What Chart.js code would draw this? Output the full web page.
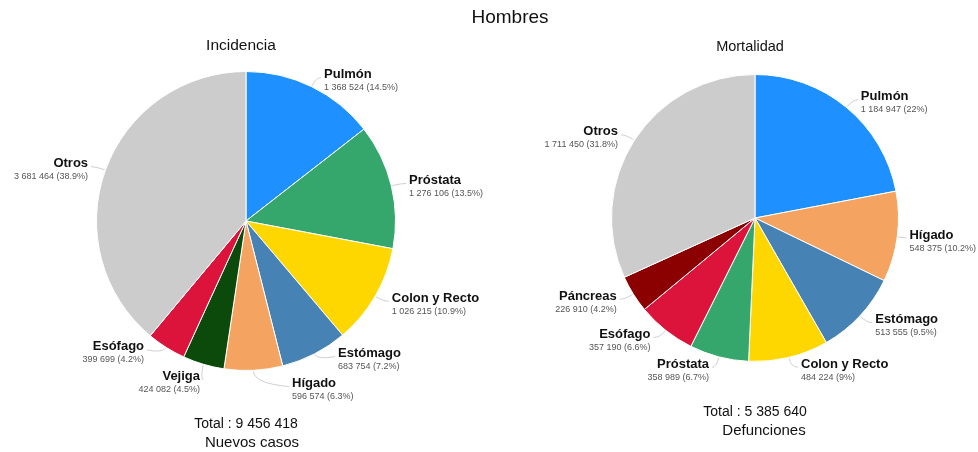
<!DOCTYPE html>
<html>
<head>
<meta charset="utf-8">
<script src="https://cdn.jsdelivr.net/npm/chart.js@4"></script>
<style>
  body { margin: 0; background: #fff; font-family: "Liberation Sans", Arial, sans-serif; }
  #page { position: relative; width: 978px; height: 452px; overflow: hidden; }
  .box { position: absolute; top: 0; width: 489px; height: 452px; }
  .txt { position: absolute; white-space: nowrap; transform: translateX(-50%); color: #111; }
</style>
</head>
<body>
<div id="page">
  <div class="box" style="left:0"><canvas id="incidencia" width="489" height="452"></canvas></div>
  <div class="box" style="left:489px"><canvas id="mortalidad" width="489" height="452"></canvas></div>

  <div class="txt" style="left:510px; top:6px; font-size:19px;">Hombres</div>
  <div class="txt" style="left:241px; top:36px; font-size:15.5px;">Incidencia</div>
  <div class="txt" style="left:750px; top:38px; font-size:14.5px;">Mortalidad</div>
  <div class="txt" id="inc-total" style="left:246px; top:415px; font-size:14px;"></div>
  <div class="txt" style="left:252px; top:433px; font-size:15px;">Nuevos casos</div>
  <div class="txt" id="mor-total" style="left:755px; top:403px; font-size:14px;"></div>
  <div class="txt" style="left:764px; top:421px; font-size:15px;">Defunciones</div>
</div>

<script>
// Incidencia (nuevos casos)
const incCategories = ['Pulmón', 'Próstata', 'Colon y Recto', 'Estómago', 'Hígado', 'Vejiga', 'Esófago', 'Otros'];
const incValues = [1368524, 1276106, 1026215, 683754, 596574, 424082, 399699, 3681464];

// Mortalidad (defunciones)
const morCategories = ['Pulmón', 'Hígado', 'Estómago', 'Colon y Recto', 'Próstata', 'Esófago', 'Páncreas', 'Otros'];
const morValues = [1184947, 548375, 513555, 484224, 358989, 357190, 226910, 1711450];

const organColors = {
    'Pulmón': '#1e90ff',
    'Próstata': '#35a66c',
    'Colon y Recto': '#ffd700',
    'Estómago': '#4682b4',
    'Hígado': '#f4a460',
    'Vejiga': '#0b4a0b',
    'Esófago': '#dc143c',
    'Páncreas': '#8b0000',
    'Otros': '#cccccc'
};

const nameFont = 'bold 13px "Liberation Sans", Arial, sans-serif';
const valueFont = '9px "Liberation Sans", Arial, sans-serif';

function fmtNumber(n) {
    return String(n).replace(/\B(?=(\d{3})+(?!\d))/g, ' ');
}

function fmtPercent(v, total) {
    return (v / total * 100).toFixed(1).replace(/\.0$/, '') + '%';
}

// outside labels with curved leader lines
const outsideLabels = {
    id: 'outsideLabels',
    afterDatasetsDraw(chart) {
        const ctx = chart.ctx;
        const arcs = chart.getDatasetMeta(0).data;
        const values = chart.data.datasets[0].data;
        const total = values.reduce((a, b) => a + b, 0);
        const cx = arcs[0].x, cy = arcs[0].y, r = arcs[0].outerRadius;
        const R = r + 10;
        const spacing = 30;
        const minDx = 46;

        const items = arcs.map((a, i) => {
            const mid = (a.startAngle + a.endAngle) / 2;
            const cos = Math.cos(mid), sin = Math.sin(mid);
            return { i, cos, sin, side: cos >= 0 ? 1 : -1, y: cy + R * sin };
        });

        // push overlapping labels apart on each side
        [1, -1].forEach(side => {
            const list = items.filter(it => it.side === side).sort((a, b) => a.y - b.y);
            for (let iter = 0; iter < 60; iter++) {
                for (let k = 1; k < list.length; k++) {
                    const gap = list[k].y - list[k - 1].y;
                    if (gap < spacing) {
                        const d = (spacing - gap) / 2;
                        list[k - 1].y -= d;
                        list[k].y += d;
                    }
                }
            }
        });

        ctx.save();
        items.forEach(it => {
            const name = chart.data.labels[it.i];
            const valueText = fmtNumber(values[it.i]) + ' (' + fmtPercent(values[it.i], total) + ')';
            ctx.font = nameFont;
            let w = ctx.measureText(name).width;
            ctx.font = valueFont;
            w = Math.max(w, ctx.measureText(valueText).width);

            const dy = it.y - cy;
            const dx = Math.abs(dy) < R ? Math.sqrt(R * R - dy * dy) : 0;
            let tx = cx + it.side * Math.max(dx + 8, minDx);
            // keep text inside the canvas
            if (it.side > 0) tx = Math.min(tx, chart.width - w - 2);
            else tx = Math.max(tx, w + 2);

            const p0x = cx + (r + 1) * it.cos, p0y = cy + (r + 1) * it.sin;
            const c1x = cx + R * it.cos, c1y = cy + R * it.sin;

            ctx.beginPath();
            ctx.moveTo(p0x, p0y);
            ctx.quadraticCurveTo(c1x, (c1y + it.y) / 2, tx - it.side * 3, it.y);
            ctx.strokeStyle = '#cfcfcf';
            ctx.lineWidth = 1;
            ctx.stroke();

            ctx.textAlign = it.side > 0 ? 'left' : 'right';
            ctx.textBaseline = 'middle';
            ctx.fillStyle = '#111';
            ctx.font = nameFont;
            ctx.fillText(name, tx, it.y - 3);
            ctx.fillStyle = '#555';
            ctx.font = valueFont;
            ctx.fillText(valueText, tx, it.y + 10);
        });
        ctx.restore();
    }
};

function makePie(id, categories, values, padding) {
    return new Chart(document.getElementById(id), {
        type: 'pie',
        data: {
            labels: categories,
            datasets: [{
                data: values,
                backgroundColor: categories.map(c => organColors[c]),
                borderColor: '#ffffff',
                borderWidth: 1
            }]
        },
        options: {
            responsive: false,
            animation: false,
            devicePixelRatio: 1,
            layout: { padding },
            plugins: {
                legend: { display: false },
                tooltip: { enabled: false }
            }
        },
        plugins: [outsideLabels]
    });
}

makePie('incidencia', incCategories, incValues, { left: 96, right: 93, top: 71, bottom: 81 });
makePie('mortalidad', morCategories, morValues, { left: 122, right: 79, top: 74, bottom: 90 });

document.getElementById('inc-total').textContent = 'Total : ' + fmtNumber(incValues.reduce((a, b) => a + b, 0));
document.getElementById('mor-total').textContent = 'Total : ' + fmtNumber(morValues.reduce((a, b) => a + b, 0));
</script>
</body>
</html>
